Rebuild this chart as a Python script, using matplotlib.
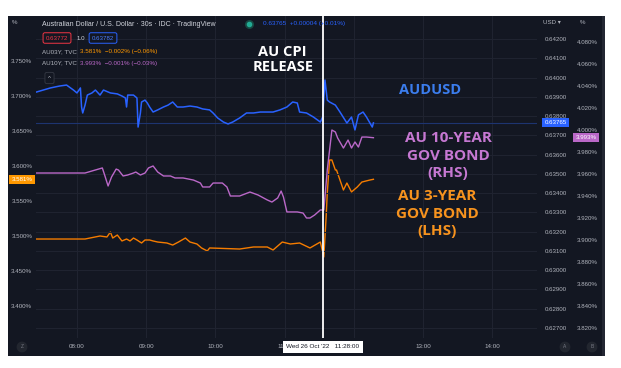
import matplotlib.pyplot as plt
from matplotlib.patches import Rectangle
from matplotlib.lines import Line2D
from matplotlib import transforms
from matplotlib.ticker import FuncFormatter

# time in minutes after midnight (Wed 26 Oct 2022)
usd_t = [445, 457, 465, 471, 477, 480, 483, 484, 485, 487, 489, 493, 496, 500, 503, 509, 515, 519,
         522, 523, 524, 529, 532, 533, 535, 536, 539, 541, 543, 546, 550, 555, 559, 563, 567, 572,
         578, 584, 589, 595, 598, 602, 607, 611, 615, 621, 627, 633, 639, 645, 650, 656, 662, 667,
         671, 673, 679, 685, 691, 693, 695, 697, 699, 704, 708, 714, 718, 721, 724, 728, 731, 736, 737]
usd_v = [0.63925, 0.63946, 0.63956, 0.63961, 0.63935, 0.63920, 0.63946, 0.63847, 0.63816, 0.63857,
         0.63909, 0.63920, 0.63935, 0.63909, 0.63935, 0.63920, 0.63915, 0.63904, 0.63894, 0.63847,
         0.63909, 0.63909, 0.63894, 0.63743, 0.63816, 0.63873, 0.63883, 0.63868, 0.63847, 0.63821,
         0.63832, 0.63847, 0.63857, 0.63873, 0.63847, 0.63847, 0.63852, 0.63847, 0.63837, 0.63832,
         0.63816, 0.63790, 0.63769, 0.63759, 0.63769, 0.63790, 0.63816, 0.63816, 0.63821, 0.63821,
         0.63821, 0.63832, 0.63847, 0.63873, 0.63868, 0.63821, 0.63816, 0.63795, 0.63769, 0.63795,
         0.63987, 0.63883, 0.63873, 0.63857, 0.63821, 0.63764, 0.63795, 0.63728, 0.63806, 0.63821,
         0.63795, 0.63743, 0.63765]

au10_t = [445, 487, 502, 504, 507, 510, 514, 516, 520, 524, 529, 531, 535, 539, 542, 546, 550, 555,
          561, 565, 572, 581, 587, 589, 595, 598, 606, 610, 613, 621, 630, 637, 645, 649, 654, 657,
          659, 662, 671, 676, 679, 682, 686, 691, 694, 697, 701, 704, 706, 711, 715, 718, 721, 724,
          727, 731, 737]
au10_v = [3.9609, 3.9609, 3.9655, 3.9591, 3.9491, 3.9573, 3.9645, 3.9636, 3.9582, 3.9591, 3.9609,
          3.9618, 3.9591, 3.9609, 3.9655, 3.9673, 3.9618, 3.9582, 3.9582, 3.9564, 3.9564, 3.9545,
          3.9518, 3.9482, 3.9482, 3.9518, 3.9518, 3.9482, 3.9400, 3.9400, 3.9436, 3.9409, 3.9364,
          3.9345, 3.9382, 3.9445, 3.9391, 3.9255, 3.9255, 3.9245, 3.9200, 3.9200, 3.9227, 3.9273,
          3.9273, 3.9636, 4.0000, 3.9982, 3.9927, 3.9836, 3.9909, 3.9836, 3.9891, 3.9845, 3.9936,
          3.9936, 3.9930]

au3_t = [445, 487, 500, 506, 509, 511, 515, 519, 523, 526, 529, 532, 536, 539, 543, 546, 550, 558,
         563, 568, 574, 578, 584, 588, 593, 595, 621, 633, 645, 650, 658, 665, 673, 682, 688, 691,
         692, 694, 696, 697, 699, 701, 704, 705, 708, 711, 714, 718, 723, 727, 734, 737]
au3_v = [3.4957, 3.4957, 3.5000, 3.4986, 3.5057, 3.4971, 3.5014, 3.4929, 3.4957, 3.4929, 3.4971,
         3.4943, 3.4900, 3.4943, 3.4943, 3.4929, 3.4914, 3.4900, 3.4871, 3.4914, 3.4971, 3.4914,
         3.4886, 3.4829, 3.4786, 3.4829, 3.4814, 3.4843, 3.4843, 3.4800, 3.4914, 3.4886, 3.4900,
         3.4829, 3.4886, 3.4914, 3.4843, 3.4700, 3.5271, 3.5614, 3.6086, 3.6086, 3.5943, 3.5943,
         3.5800, 3.5657, 3.5757, 3.5629, 3.5700, 3.5771, 3.5800, 3.5810]

release_t = 693  # AU CPI release
hours = [480, 540, 600, 660, 720, 780, 840]
usd_ticks = [0.627 + 0.001 * i for i in range(16)]
left_ticks = [3.40 + 0.05 * i for i in range(8)]
right_ticks = [3.82 + 0.02 * i for i in range(14)]

BG = '#131722'
GRID = '#1f2330'
TXT = '#b2b5be'
BLUE = '#2962ff'
PURPLE = '#ba68c8'
ORANGE = '#f57c00'

plt.rcParams['font.family'] = ['Liberation Sans', 'DejaVu Sans']
W, H = 621, 368
fig = plt.figure(figsize=(6.21, 3.68), dpi=100, facecolor='white')


def fx(x):
    return x / W


def fy(y):
    return 1 - y / H


fig.patches.append(Rectangle((fx(8), fy(356)), 597 / W, 340 / H, transform=fig.transFigure,
                             facecolor=BG, edgecolor='none', zorder=-2))
fig.patches.append(Rectangle((fx(602), fy(356)), 3 / W, 340 / H, transform=fig.transFigure,
                             facecolor='#232733', edgecolor='none', zorder=-1))

ax = fig.add_axes([fx(36), fy(338), 501 / W, 322 / H])
ax.set_facecolor('none')
ax_usd = ax.twinx()
ax_pct = ax.twinx()
for a in (ax, ax_usd, ax_pct):
    for s in a.spines.values():
        s.set_visible(False)

ax.set_xlim(444.5, 878.8)
ax.set_ylim(3.35429, 3.81429)
ax_usd.set_ylim(0.626481, 0.643194)
ax_pct.set_ylim(3.81091, 4.10364)

ax.plot(au3_t, au3_v, color=ORANGE, lw=1.0, zorder=3)
ax_pct.plot(au10_t, au10_v, color=PURPLE, lw=1.0, zorder=3)
ax_usd.axhline(usd_v[-1], color='#1d3470', lw=0.8, zorder=1)
ax_usd.plot(usd_t, usd_v, color=BLUE, lw=1.1, zorder=3)
ax_pct.axvline(release_t, color='white', lw=1.3, zorder=5)

ax.set_xticks(hours)
ax.xaxis.set_major_formatter(FuncFormatter(lambda v, p: '%02d:00' % (v // 60)))
ax.tick_params(axis='x', length=0, pad=4.3, labelsize=4.5, colors=TXT)
ax.xaxis.grid(True, color=GRID, lw=0.8)
ax.set_yticks(left_ticks)
ax.yaxis.set_major_formatter(FuncFormatter(lambda v, p: '%.3f%%' % v))
ax.tick_params(axis='y', length=0, pad=2.8, labelsize=4.4, colors=TXT)

ax_usd.set_yticks(usd_ticks)
ax_usd.yaxis.set_major_formatter(FuncFormatter(lambda v, p: '%.5f' % v))
ax_usd.tick_params(axis='y', length=0, pad=5.8, labelsize=4.4, colors=TXT)
ax_usd.yaxis.grid(True, color=GRID, lw=0.8, zorder=0)
ax_usd.set_axisbelow(True)

ax_pct.set_yticks(right_ticks)
ax_pct.yaxis.set_major_formatter(FuncFormatter(lambda v, p: '%.3f%%' % v))
ax_pct.tick_params(axis='y', length=0, pad=28.8, labelsize=4.4, colors=TXT)

# price tags on the scales
tl = transforms.blended_transform_factory(fig.transFigure, ax.transData)
ax.text(fx(22), au3_v[-1], '%.3f%%' % au3_v[-1], transform=tl, ha='center', va='center',
        fontsize=4.4, color='white', clip_on=False,
        bbox=dict(boxstyle='square,pad=0.35', fc='#ff9800', ec='none'))
tr = transforms.blended_transform_factory(fig.transFigure, ax_usd.transData)
ax_usd.text(fx(555.5), usd_v[-1], '%.5f' % usd_v[-1], transform=tr, ha='center', va='center',
            fontsize=4.4, color='white', clip_on=False,
            bbox=dict(boxstyle='square,pad=0.35', fc=BLUE, ec='none'))
tp = transforms.blended_transform_factory(fig.transFigure, ax_pct.transData)
ax_pct.text(fx(586), au10_v[-1], '%.3f%%' % au10_v[-1], transform=tp, ha='center', va='center',
            fontsize=4.4, color='white', clip_on=False,
            bbox=dict(boxstyle='square,pad=0.35', fc=PURPLE, ec='none'))

# header / legend
fig.text(fx(12), fy(22), '%', fontsize=4.4, color=TXT, va='center')
fig.text(fx(42), fy(24), 'Australian Dollar / U.S. Dollar · 30s · IDC · TradingView',
         fontsize=5, color='#d1d4dc', va='center')
fig.add_artist(Line2D([fx(249)], [fy(24)], marker='o', ms=5.5, color='#164a43', transform=fig.transFigure))
fig.add_artist(Line2D([fx(249)], [fy(24)], marker='o', ms=3, color='#22ab94', transform=fig.transFigure))
fig.text(fx(263), fy(24), '0.63765  +0.00004 (+0.01%)', fontsize=4.6, color=BLUE, va='center')
fig.text(fx(57), fy(38), '0.63772', fontsize=4.4, color='#f23645', ha='center', va='center',
         bbox=dict(boxstyle='round,pad=0.45,rounding_size=0.3', fc=BG, ec='#f23645', lw=0.7))
fig.text(fx(77), fy(38), '1.0', fontsize=4.4, color='#d1d4dc', va='center')
fig.text(fx(103), fy(38), '0.63782', fontsize=4.4, color='#4a7dff', ha='center', va='center',
         bbox=dict(boxstyle='round,pad=0.45,rounding_size=0.3', fc=BG, ec=BLUE, lw=0.7))
fig.text(fx(42), fy(52), 'AU03Y, TVC', fontsize=4.5, color=TXT, va='center')
fig.text(fx(80), fy(52), '3.581%  \u22120.002% (\u22120.06%)', fontsize=4.5, color='#ff9800', va='center')
fig.text(fx(42), fy(63), 'AU10Y, TVC', fontsize=4.5, color=TXT, va='center')
fig.text(fx(80), fy(63), '3.993%  \u22120.001% (\u22120.03%)', fontsize=4.5, color=PURPLE, va='center')
fig.text(fx(49.5), fy(78), '^', fontsize=4.5, color=TXT, ha='center', va='center',
         bbox=dict(boxstyle='round,pad=0.5,rounding_size=0.3', fc=BG, ec='#363a45', lw=0.6))
fig.text(fx(543), fy(22), 'USD \u25be', fontsize=4.4, color=TXT, va='center')
fig.text(fx(580), fy(22), '%', fontsize=4.4, color=TXT, va='center')

# bottom buttons and tooltip
for bx, lab in [(22, 'Z'), (565, 'A'), (592, 'B')]:
    fig.text(fx(bx), fy(347), lab, fontsize=3.5, color='#787b86', ha='center', va='center',
             bbox=dict(boxstyle='circle,pad=0.6', fc='#22262f', ec='none'))
fig.text(fx(323), fy(347), "Wed 26 Oct '22   11:28:00", fontsize=4.6, color=BG,
         ha='center', va='center', zorder=10,
         bbox=dict(boxstyle='square,pad=0.6', fc='white', ec='none'))

# annotations
ann = dict(fontweight='bold', ha='center', va='center', family=['Open Sans', 'DejaVu Sans'])
fig.text(fx(282), fy(52), 'AU CPI', fontsize=10.5, color='white', **ann)
fig.text(fx(283), fy(67), 'RELEASE', fontsize=10.5, color='white', **ann)
fig.text(fx(430), fy(90), 'AUDUSD', fontsize=10.5, color='#3b7ded', **ann)
for i, s in enumerate(['AU 10-YEAR', 'GOV BOND', '(RHS)']):
    fig.text(fx(448), fy(138 + 17.5 * i), s, fontsize=11, color='#c678d2', **ann)
for i, s in enumerate(['AU 3-YEAR', 'GOV BOND', '(LHS)']):
    fig.text(fx(437), fy(196 + 17.5 * i), s, fontsize=11, color='#f7931e', **ann)

fig.savefig('out.png', dpi=100, facecolor='white')
